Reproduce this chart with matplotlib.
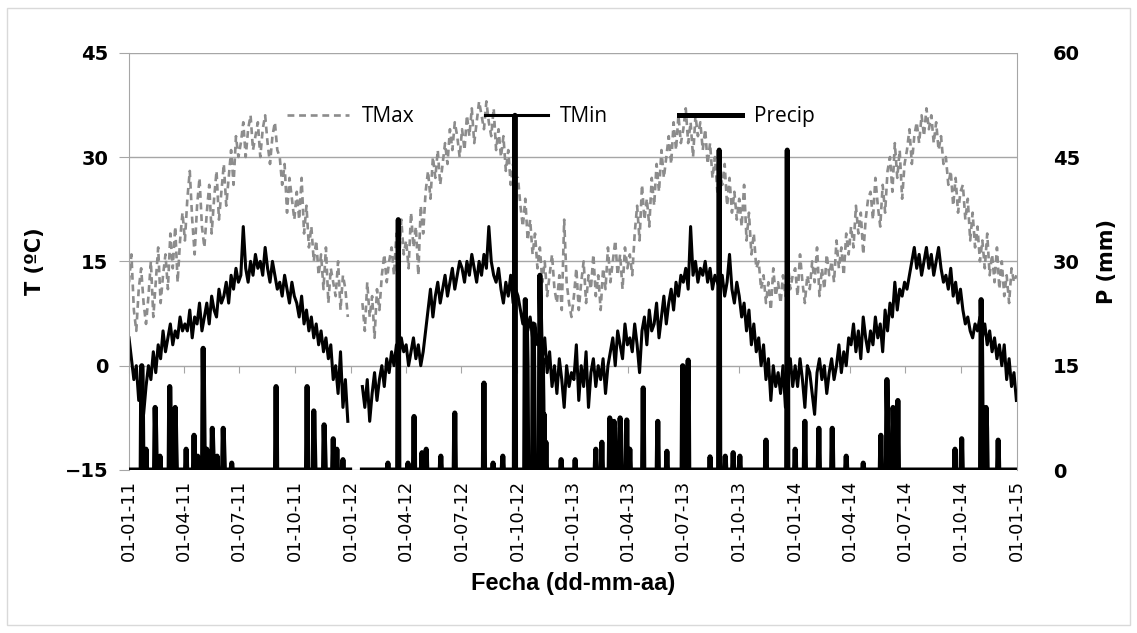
import numpy as np
import pandas as pd
import matplotlib
matplotlib.use("Agg")
import matplotlib.pyplot as plt
import matplotlib.dates as mdates
import matplotlib.ticker as mticker
from matplotlib.lines import Line2D
from matplotlib.patches import Rectangle

nan = np.nan

# TMax / TMin (C), one sample every 4 days from 01-01-11, one row per quarter
tmax = [
    12, 16, 8, 5, 11, 14, 9, 6, 10, 15, 7, 12, 17, 9, 13, 16, 11, 19, 14, 20, 12, 18, 22,
    18, 24, 28, 21, 16, 23, 27, 20, 17, 22, 26, 19, 24, 28, 21, 25, 29, 23, 27, 31, 26, 33, 30,
    32, 35, 30, 34, 36, 31, 33, 35, 30, 34, 36, 32, 29, 33, 35, 31, 30, 26, 29, 22, 27, 24, 21,
    25, 21, 27, 19, 23, 17, 20, 15, 18, 13, 16, 11, 17, 9, 14, 12, 10, 15, 8, 13, 11, 7, nan,
    nan, nan, nan, nan, 9, 5, 12, 7, 10, 4, 11, 8, 13, 16, 12, 15, 17, 13, 19, 14, 21, 16,
    18, 14, 22, 17, 20, 13, 23, 19, 25, 28, 24, 30, 27, 31, 26, 29, 32, 29, 34, 31, 35, 33, 30,
    34, 31, 36, 33, 37, 32, 35, 38, 36, 34, 38, 35, 33, 37, 31, 34, 30, 33, 28, 31, 26, 29, 27,
    27, 23, 20, 24, 18, 21, 16, 19, 14, 17, 12, 15, 10, 13, 16, 11, 9, 13, 8, 21, 12, 9, 7,
    10, 14, 8, 12, 15, 9, 13, 11, 16, 10, 13, 8, 14, 11, 17, 12, 15, 18, 13, 16, 11, 17, 14,
    16, 13, 19, 23, 18, 26, 21, 24, 20, 27, 23, 29, 25, 31, 27, 30, 33, 29, 35, 31, 36, 32,
    34, 37, 32, 35, 30, 36, 33, 35, 31, 34, 29, 32, 27, 30, 25, 28, 26, 29, 23, 27, 22, 25, 21,
    24, 20, 26, 18, 22, 16, 19, 14, 15, 11, 13, 9, 12, 8, 14, 10, 12, 9, 13, 10, 15, 11, 13,
    14, 10, 16, 12, 9, 13, 11, 15, 12, 17, 10, 14, 11, 16, 13, 15, 12, 18, 14, 17, 13, 19, 16,
    20, 17, 23, 19, 22, 16, 21, 24, 25, 21, 27, 23, 20, 26, 22, 28, 30, 25, 32, 27, 31, 24, 29,
    31, 34, 29, 33, 35, 32, 36, 33, 37, 34, 36, 32, 35, 31, 33, 29, 30, 26, 28, 23, 27, 22, 25,
    26, 21, 24, 18, 22, 17, 20, 15, 18, 14, 19, 13, 16, 12, 17, 11, 15, 10, 13, 9, 14, 12, 13,
]
tmin = [
    4, 1, -2, 0, -5, -1, -7, -3, 0, -2, 2, -1, 3, 1, 5, 2, 4, 6, 3, 5, 4, 7, 5,
    6, 5, 8, 4, 7, 6, 9, 5, 7, 9, 6, 10, 8, 7, 11, 9, 10, 12, 9, 13, 11, 14, 12,
    13, 20, 14, 12, 15, 13, 16, 14, 15, 13, 17, 14, 12, 15, 13, 11, 12, 10, 13, 11, 9, 12, 10,
    9, 7, 10, 6, 8, 5, 7, 4, 6, 3, 5, 2, 4, 1, 3, -2, 0, -4, 2, -6, -2, -8, nan,
    nan, nan, nan, nan, -3, -6, -2, -8, -4, -1, -5, -2, 0, -3, 1, -1, 2, 0, 3, 1, 4, 2,
    3, 0, 2, 4, 1, 3, 0, 2, 5, 8, 11, 7, 10, 12, 9, 11, 13, 10, 12, 14, 11, 13, 15,
    14, 12, 15, 13, 16, 14, 12, 15, 13, 16, 14, 20, 15, 13, 12, 14, 11, 9, 12, 10, 13, 9, 11,
    10, 8, 6, 9, 5, 7, 4, 6, 3, 5, 1, 4, -1, 2, -3, 0, -4, 1, -2, -6, 0, -3, -1,
    -2, 3, -5, 0, -3, 2, -6, -1, 1, -3, 0, -2, 1, -4, 0, 2, 4, 0, 5, 3, 1, 6, 3,
    4, 2, 6, 3, -1, 5, 7, 3, 8, 5, 6, 9, 4, 7, 10, 6, 9, 11, 8, 12, 10, 13,
    12, 14, 11, 20, 13, 15, 12, 14, 13, 15, 12, 14, 11, 13, 12, 11, 13, 10, 12, 16, 11, 9, 12,
    10, 7, 9, 5, 8, 3, 6, 2, 4, 0, 3, -2, 1, -5, 0, -3, -1, -4, 0, -6, -2, 1, -3,
    0, -3, 1, -2, -6, 0, -1, -4, -7, -1, 1, -2, 0, -4, -1, 1, -2, 0, 3, -1, 2, 0, 4,
    3, 6, 2, 5, 1, 7, 4, 2, 5, 3, 7, 4, 6, 2, 8, 5, 9, 7, 12, 8, 11, 10, 12,
    11, 13, 15, 17, 14, 16, 13, 15, 17, 14, 16, 13, 15, 17, 14, 12, 13, 11, 14, 10, 12, 9, 11,
    8, 6, 7, 5, 4, 6, 5, 7, 4, 6, 3, 5, 2, 4, 1, 3, 0, 3, -2, 1, -3, -1, -5,
]

# rainy days and daily precipitation (mm); all other days are 0
rain_dates = [
    "2011-01-22", "2011-01-23", "2011-01-29", "2011-02-13", "2011-02-14", "2011-02-21",
    "2011-03-09", "2011-03-10", "2011-03-18", "2011-03-19", "2011-04-05", "2011-04-18",
    "2011-04-24", "2011-05-03", "2011-05-04", "2011-05-09", "2011-05-18", "2011-05-19",
    "2011-05-26", "2011-06-05", "2011-06-06", "2011-06-19", "2011-08-31", "2011-10-21",
    "2011-11-01", "2011-11-02", "2011-11-18", "2011-11-19", "2011-12-03", "2011-12-09",
    "2011-12-19",
    "2012-03-02", "2012-03-19", "2012-04-04", "2012-04-14", "2012-04-27", "2012-05-04",
    "2012-05-28", "2012-06-20", "2012-08-07", "2012-08-22", "2012-09-07", "2012-09-27",
    "2012-10-14", "2012-10-15", "2012-10-16", "2012-10-17", "2012-10-27", "2012-10-28",
    "2012-11-07", "2012-11-08", "2012-11-09", "2012-11-11", "2012-11-12", "2012-11-14",
    "2012-11-17", "2012-12-12",
    "2013-01-04", "2013-02-07", "2013-02-17", "2013-03-02", "2013-03-03", "2013-03-09",
    "2013-03-10", "2013-03-19", "2013-03-20", "2013-03-30", "2013-04-04", "2013-04-26",
    "2013-05-20", "2013-06-04", "2013-06-30", "2013-07-01", "2013-07-08", "2013-07-09",
    "2013-08-14", "2013-08-29", "2013-09-08", "2013-09-21", "2013-10-02", "2013-11-14",
    "2013-12-19",
    "2014-01-01", "2014-01-17", "2014-02-09", "2014-03-03", "2014-03-26", "2014-04-23",
    "2014-05-22", "2014-06-01", "2014-06-02", "2014-06-11", "2014-06-12", "2014-06-19",
    "2014-09-21", "2014-10-02", "2014-11-03", "2014-11-04", "2014-11-11", "2014-11-12",
    "2014-12-01",
]
rain_mm = [
    15, 10, 3, 9, 5, 2,
    12, 6, 9, 4, 3, 5,
    2, 17.5, 8, 3, 6, 3,
    2, 6, 3, 1, 12, 12,
    8.5, 4, 6.5, 3, 4.5, 3,
    1.5,
    1, 36, 1, 7.7, 2.5, 3,
    2, 8.2, 12.5, 1, 2, 51,
    24.5, 18, 20, 15, 21, 14,
    28, 22, 18, 16, 10, 8,
    4, 1.5,
    1.5, 3, 4, 7.5, 5, 7,
    6, 7.5, 5, 7.2, 3, 11.8,
    7, 2.7, 15, 8, 10, 15.8,
    1.9, 46, 2, 2.5, 2, 4.3,
    46,
    3, 7, 6, 6, 2, 1,
    5, 13, 8, 9, 6, 10,
    3, 4.5, 24.5, 15, 9, 6,
    4.3,
]

# days without records
gap = ("2011-12-31", "2012-01-19")

start, end = pd.Timestamp("2011-01-01"), pd.Timestamp("2015-01-01")
t_dates = start + pd.to_timedelta(np.arange(len(tmax)) * 4, unit="D")

days = pd.date_range(start, end, freq="D")
precip = pd.Series(0.0, index=days)
precip[pd.to_datetime(rain_dates)] = rain_mm
precip[gap[0]:gap[1]] = nan

tick_dates = pd.date_range(start, end, freq="3MS")

W, H = 1137, 633
fig = plt.figure(figsize=(W / 100, H / 100), dpi=100)
fig.patches.append(Rectangle((7 / W, 8 / H), 1 - 14 / W, 1 - 16 / H, transform=fig.transFigure,
                             fill=False, edgecolor="#d9d9d9", lw=1))

L, R, T, B = 129, 1017, 52.7, 470
ax = fig.add_axes([L / W, 1 - B / H, (R - L) / W, (B - T) / H])
ax2 = ax.twinx()

grid_c = "#a6a6a6"
tmax_style = dict(color="#8c8c8c", lw=1.9, ls=(0, (2.6, 1.8)))
tmin_style = dict(color="black", lw=2.2)
prec_style = dict(color="black", lw=3.6)

ax.plot(t_dates, tmax, **tmax_style)
ax.plot(t_dates, tmin, **tmin_style)
ax2.plot(precip.index, precip.values, **prec_style)

ax.set_xlim(mdates.date2num(start), mdates.date2num(end))
ax.set_ylim(-15, 45)
ax.set_yticks([-15, 0, 15, 30, 45])
ax2.set_ylim(0, 60)
ax2.set_yticks([0, 15, 30, 45, 60])
ax.yaxis.grid(True, color=grid_c, lw=1)
ax.set_axisbelow(True)

for s in ["top", "bottom", "right"]:
    ax.spines[s].set_visible(False)
for s in ["top", "bottom", "left"]:
    ax2.spines[s].set_visible(False)
ax.spines["left"].set_color(grid_c)
ax2.spines["right"].set_color(grid_c)

ax.set_xticks(tick_dates)
ax.xaxis.set_major_formatter(mdates.DateFormatter("%d-%m-%y"))
ax.tick_params(axis="x", length=0, pad=7, labelsize=13, rotation=90)
ax.tick_params(axis="y", length=7, color=grid_c, pad=8)
ax2.tick_params(axis="y", length=0, pad=26)
for lab in ax.get_yticklabels() + ax2.get_yticklabels():
    lab.set_fontweight("bold")
    lab.set_fontsize(14)

# small ticks on the 0 C line
sec = ax.secondary_xaxis(0.25)
sec.set_xticks(mdates.date2num(tick_dates))
sec.xaxis.set_major_formatter(mticker.NullFormatter())
sec.spines["bottom"].set_visible(False)
sec.tick_params(axis="x", length=5, color=grid_c, direction="out")

ax.set_ylabel("T (ºC)", fontsize=15, fontweight="bold", labelpad=14)
ax2.set_ylabel("P (mm)", fontsize=15, fontweight="bold", labelpad=12)
ax.set_xlabel("Fecha (dd-mm-aa)", fontsize=17, fontweight="bold", fontfamily="Liberation Sans",
              labelpad=8)

handles = [Line2D([], [], **tmax_style), Line2D([], [], **tmin_style), Line2D([], [], **prec_style)]
ax2.legend(handles, ["TMax", "TMin", "Precip"], loc="center", bbox_to_anchor=(0.475, 0.846),
           ncol=3, frameon=False, handlelength=3.0, handletextpad=0.6, columnspacing=3.4,
           prop={"family": "Open Sans", "size": 15})

fig.savefig("out.png", dpi=100)
